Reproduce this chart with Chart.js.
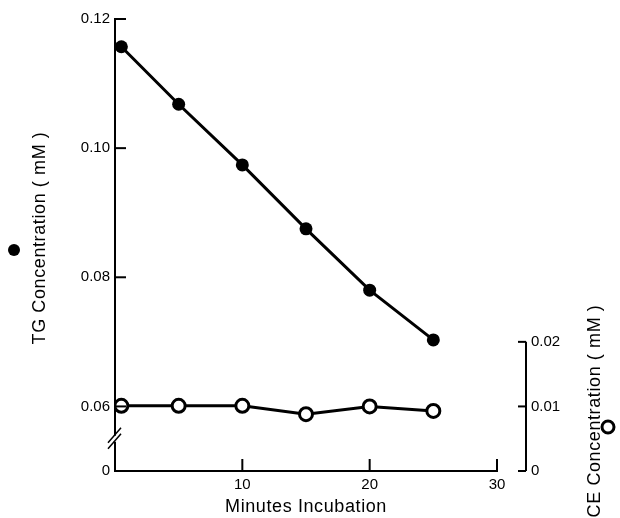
<!DOCTYPE html>
<html>
<head>
<meta charset="utf-8">
<script src="https://cdn.jsdelivr.net/npm/chart.js@4.4.1/dist/chart.umd.min.js"></script>
<style>
    body { margin: 0; background: #fff; }
    #wrap { width: 620px; height: 518px; }
</style>
</head>
<body>
<div id="wrap"><canvas id="chart"></canvas></div>
<script>
// data
const minutes = [0.5, 5, 10, 15, 20, 25];
const tgConc = [0.1157, 0.1068, 0.0974, 0.0875, 0.0780, 0.0703];
const ceConc = [0.0101, 0.0101, 0.0101, 0.0088, 0.0100, 0.0093];

const xTicks = [10, 20, 30];
const tgTicks = [0.05, 0.06, 0.08, 0.10, 0.12];
const tgTickLabels = ['0', '0.06', '0.08', '0.10', '0.12'];
const ceTicks = [0, 0.01, 0.02];
const ceTickLabels = ['0', '0.01', '0.02'];

const FONT = '"Liberation Sans", Arial, sans-serif';

function toPoints(xs, ys) {
    return xs.map((x, i) => ({ x: x, y: ys[i] }));
}

// inward ticks, axis break, right CE axis and titles
const decorations = {
    id: 'decorations',
    afterDraw(chart) {
        const ctx = chart.ctx;
        const area = chart.chartArea;
        const x = chart.scales.x;
        const y = chart.scales.y;
        const y2 = chart.scales.y2;
        ctx.save();
        ctx.strokeStyle = '#000';
        ctx.fillStyle = '#000';
        ctx.lineWidth = 2;

        // left ticks pointing into the plot
        tgTicks.forEach(v => {
            if (v === tgTicks[0]) return;
            const py = y.getPixelForValue(v);
            ctx.beginPath();
            ctx.moveTo(area.left, py);
            ctx.lineTo(area.left + 11, py);
            ctx.stroke();
        });
        // bottom ticks pointing up
        xTicks.forEach(v => {
            const px = x.getPixelForValue(v);
            ctx.beginPath();
            ctx.moveTo(px, area.bottom);
            ctx.lineTo(px, area.bottom - 12);
            ctx.stroke();
        });

        // axis break on the TG axis
        const by = (y.getPixelForValue(0.06) + area.bottom) / 2;
        ctx.fillStyle = '#fff';
        ctx.fillRect(area.left - 2, by - 3, 4, 6);
        ctx.fillStyle = '#000';
        ctx.lineWidth = 1.5;
        [-3, 3].forEach(d => {
            ctx.beginPath();
            ctx.moveTo(area.left - 7, by + d + 7);
            ctx.lineTo(area.left + 6, by + d - 8);
            ctx.stroke();
        });

        // right CE axis, detached from the plot
        const ax = area.right + 29;
        ctx.lineWidth = 2;
        ctx.beginPath();
        ctx.moveTo(ax, y2.getPixelForValue(ceTicks[0]));
        ctx.lineTo(ax, y2.getPixelForValue(ceTicks[ceTicks.length - 1]));
        ctx.stroke();
        ctx.font = '15px ' + FONT;
        ctx.textAlign = 'left';
        ctx.textBaseline = 'middle';
        ceTicks.forEach((v, i) => {
            const py = y2.getPixelForValue(v);
            ctx.beginPath();
            ctx.moveTo(ax - 8, py);
            ctx.lineTo(ax, py);
            ctx.stroke();
            ctx.fillText(ceTickLabels[i], ax + 5, py);
        });

        // x title
        ctx.font = '18px ' + FONT;
        ctx.textAlign = 'center';
        ctx.textBaseline = 'middle';
        ctx.letterSpacing = '0.6px';
        ctx.fillText('Minutes Incubation', (area.left + area.right) / 2, 507);

        // left title with filled marker
        ctx.save();
        ctx.translate(40, 238);
        ctx.rotate(-Math.PI / 2);
        ctx.fillText('TG Concentration ( mM )', 0, 0);
        ctx.restore();
        ctx.beginPath();
        ctx.arc(14, 250, 6, 0, Math.PI * 2);
        ctx.fill();

        // right title with open marker
        ctx.save();
        ctx.translate(595, 411);
        ctx.rotate(-Math.PI / 2);
        ctx.fillText('CE Concentration ( mM )', 0, 0);
        ctx.restore();
        ctx.lineWidth = 3;
        ctx.beginPath();
        ctx.arc(608, 427, 6, 0, Math.PI * 2);
        ctx.stroke();

        ctx.restore();
    }
};

new Chart(document.getElementById('chart'), {
    type: 'line',
    data: {
        datasets: [{
            label: 'TG',
            data: toPoints(minutes, tgConc),
            yAxisID: 'y',
            borderColor: '#000',
            borderWidth: 3,
            pointRadius: 6.5,
            pointBackgroundColor: '#000',
            pointBorderColor: '#000',
            pointBorderWidth: 0,
            tension: 0
        }, {
            label: 'CE',
            data: toPoints(minutes, ceConc),
            yAxisID: 'y2',
            borderColor: '#000',
            borderWidth: 3,
            pointRadius: 6.5,
            pointBackgroundColor: '#fff',
            pointBorderColor: '#000',
            pointBorderWidth: 3,
            tension: 0
        }]
    },
    options: {
        responsive: true,
        maintainAspectRatio: false,
        animation: false,
        layout: { padding: { top: 19, right: 123, left: 0, bottom: 0 } },
        plugins: { legend: { display: false }, tooltip: { enabled: false } },
        scales: {
            x: {
                type: 'linear',
                min: 0,
                max: 30,
                afterFit: s => { s.height = 47; },
                afterBuildTicks: s => { s.ticks = xTicks.map(v => ({ value: v })); },
                grid: { display: false, drawTicks: false },
                border: { display: true, color: '#000', width: 2 },
                ticks: { color: '#000', padding: 5, maxRotation: 0, font: { family: FONT, size: 15 } }
            },
            y: {
                type: 'linear',
                min: 0.05,
                max: 0.12,
                afterFit: s => { s.width = 115; },
                afterBuildTicks: s => { s.ticks = tgTicks.map(v => ({ value: v })); },
                grid: { display: false, drawTicks: false },
                border: { display: true, color: '#000', width: 2 },
                ticks: {
                    color: '#000',
                    padding: 5,
                    font: { family: FONT, size: 15 },
                    callback: v => tgTickLabels[tgTicks.findIndex(t => Math.abs(t - v) < 1e-9)]
                }
            },
            y2: {
                type: 'linear',
                display: false,
                min: 0,
                max: 0.07
            }
        }
    },
    plugins: [decorations]
});
</script>
</body>
</html>
